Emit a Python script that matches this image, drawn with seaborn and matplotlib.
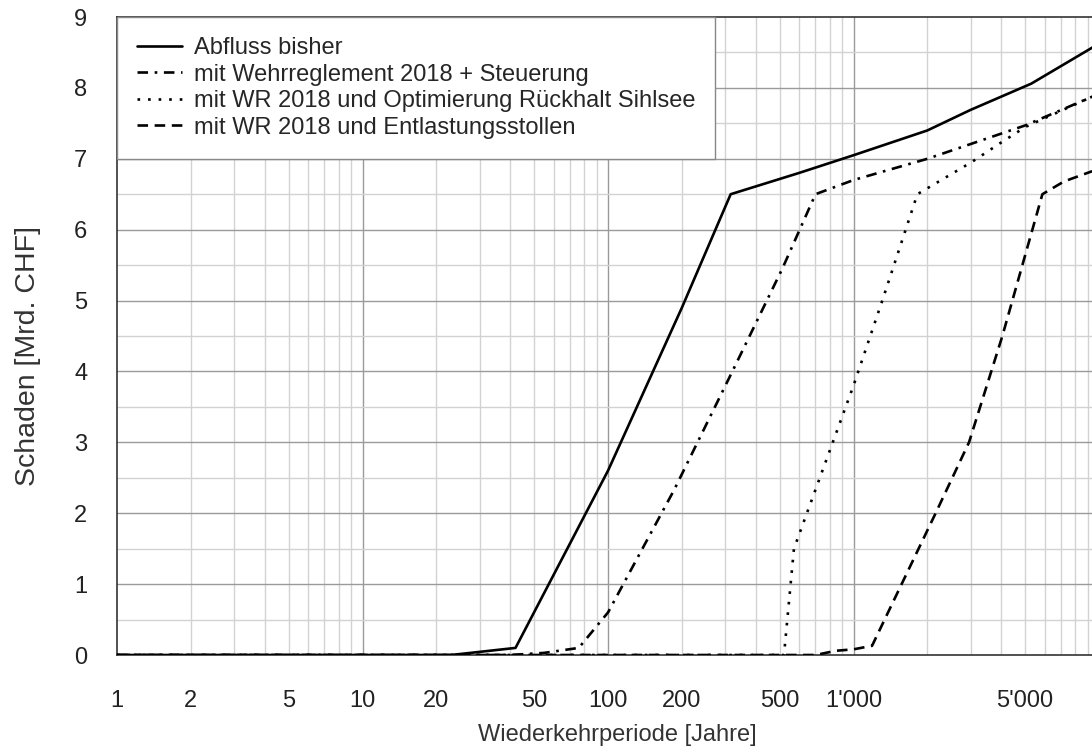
import numpy as np
import pandas as pd
import matplotlib
matplotlib.use("Agg")
import matplotlib.pyplot as plt
from matplotlib.ticker import FixedLocator, FixedFormatter, NullLocator
import seaborn as sns

# Werte (Wiederkehrperiode [Jahre], Schaden [Mrd. CHF])
bisher_x = [1, 23, 42, 100, 200, 316, 600, 1000, 2000, 3000, 5300, 9300, 10000]
bisher_y = [0, 0, 0.1, 2.6, 4.9, 6.5, 6.8, 7.05, 7.4, 7.69, 8.06, 8.56, 8.63]

steuerung_x = [1, 40, 55, 76, 100, 186, 321, 513, 700, 1000, 2000, 5000, 9300, 10000]
steuerung_y = [0, 0, 0.03, 0.1, 0.6, 2.33, 4.0, 5.45, 6.5, 6.7, 7.0, 7.47, 7.87, 7.92]

sihlsee_x = [1, 521, 572, 1000, 1310, 1820, 3050, 3915, 5020, 9300, 10000]
sihlsee_y = [0, 0, 1.5, 3.8, 5.0, 6.5, 6.96, 7.21, 7.45, 7.87, 7.92]

stollen_x = [1, 700, 850, 1000, 1190, 2160, 2955, 4040, 5880, 7200, 9300, 10000]
stollen_y = [0, 0, 0.06, 0.08, 0.13, 2.0, 3.0, 4.5, 6.5, 6.68, 6.82, 6.84]

labels = ["Abfluss bisher",
          "mit Wehrreglement 2018 + Steuerung",
          "mit WR 2018 und Optimierung Rückhalt Sihlsee",
          "mit WR 2018 und Entlastungsstollen"]

xtick_vals = [1, 2, 5, 10, 20, 50, 100, 200, 500, 1000, 2000, 5000]
xtick_labels = ["1", "2", "5", "10", "20", "50", "100", "200", "500", "1'000", "", "5'000"]

sns.set_style("white")
plt.rcParams["font.family"] = ["Liberation Sans", "DejaVu Sans"]

fig = plt.figure(figsize=(10.92, 7.48), dpi=100)
ax = fig.add_axes([117 / 1092, 93 / 748, 982 / 1092, 638 / 748])
ax.set_xscale("log")
ax.set_xlim(1, 10000)
ax.set_ylim(0, 9)

# Gitter (Hauptlinien dunkler, Zwischenlinien heller)
for d in [1, 10, 100, 1000]:
    for m in range(2, 10):
        ax.axvline(d * m, color="#d2d2d2", lw=1.0, zorder=0)
for d in [10, 100, 1000]:
    ax.axvline(d, color="#9a9a9a", lw=1.0, zorder=0)
for v in np.arange(0.5, 9, 1.0):
    ax.axhline(v, color="#d2d2d2", lw=1.0, zorder=0)
for v in range(1, 9):
    ax.axhline(v, color="#9a9a9a", lw=1.0, zorder=0)

series = [
    (bisher_x, bisher_y, "-"),
    (steuerung_x, steuerung_y, (0, (4, 2.5, 1, 2.5))),
    (sihlsee_x, sihlsee_y, (0, (1, 3))),
    (stollen_x, stollen_y, (0, (4, 2.5))),
]
for (xs, ys, ls), lab in zip(series, labels):
    df = pd.DataFrame({"x": xs, "y": ys})
    sns.lineplot(data=df, x="x", y="y", ax=ax, color="black", lw=1.9,
                 linestyle=ls, label=lab, zorder=3)

ax.xaxis.set_major_locator(FixedLocator(xtick_vals))
ax.xaxis.set_major_formatter(FixedFormatter(xtick_labels))
ax.xaxis.set_minor_locator(NullLocator())
ax.set_yticks(range(0, 10))

ax.tick_params(axis="both", direction="out", length=10.5, width=1.0,
               color="#222222", labelcolor="#222222", labelsize=17)
ax.tick_params(axis="x", pad=15)
ax.tick_params(axis="y", pad=11)

for side in ["left", "top", "bottom"]:
    ax.spines[side].set_color("#222222")
    ax.spines[side].set_linewidth(1.1)
ax.spines["right"].set_visible(False)

ax.set_xlabel("Wiederkehrperiode [Jahre]", fontsize=17, color="#333333", labelpad=8)
ax.xaxis.label.set_x(0.509)
ax.set_ylabel("Schaden [Mrd. CHF]", fontsize=20.5, color="#333333")
ax.yaxis.set_label_coords(-0.077, 0.469)

leg = ax.legend(loc="upper left", bbox_to_anchor=(0, 1), borderaxespad=0,
                fontsize=17, frameon=True, fancybox=False, framealpha=1,
                edgecolor="#888888", handlelength=1.9, handletextpad=0.5,
                labelspacing=0.19, borderpad=0.85)
leg.get_frame().set_linewidth(1.0)
leg.set_zorder(5)

fig.savefig("out.png", dpi=100)
